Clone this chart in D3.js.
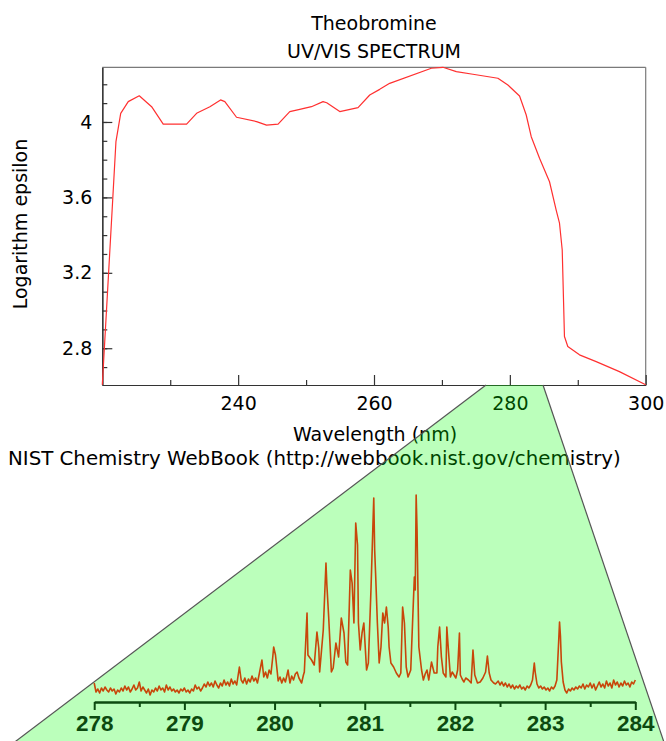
<!DOCTYPE html>
<html><head><meta charset="utf-8">
<script src="https://cdn.jsdelivr.net/npm/d3@7"></script>
<style>
html,body{margin:0;padding:0;background:#fff;}
svg{display:block;}
</style></head>
<body>
<svg id="chart" width="666" height="741"></svg>
<script>
// ---- UV/VIS spectrum (top) ----
const uvWavelength = [220.0,221.53,222.01,222.71,223.82,225.44,227.26,228.97,232.41,233.88,235.84,237.41,238.04,239.76,242.71,244.18,245.88,247.60,249.07,250.79,252.50,253.04,254.96,257.65,259.37,260.84,262.31,268.44,270.15,272.12,274.56,278.24,279.71,281.43,282.41,283.15,284.37,285.84,286.82,287.31,287.71,287.90,288.04,288.53,290.25,292.71,296.13,300.0];
const uvLogEps = [2.606,3.586,3.896,4.046,4.108,4.139,4.081,3.989,3.989,4.046,4.081,4.117,4.108,4.025,4.002,3.983,3.989,4.055,4.067,4.081,4.108,4.102,4.055,4.076,4.143,4.173,4.205,4.285,4.290,4.267,4.253,4.232,4.196,4.138,4.037,3.922,3.808,3.683,3.533,3.463,3.321,3.056,2.862,2.809,2.765,2.729,2.676,2.606];
const uvMajorTicksY = [2.8,3.2,3.6,4.0];
const uvMinorTicksY = [2.7,2.8,2.9,3.0,3.1,3.2,3.3,3.4,3.5,3.6,3.7,3.8,3.9,4.0,4.1,4.2];
const uvMajorTicksX = [240,260,280,300];
const uvMinorTicksX = [230,250,270,290];

// ---- zoomed high-resolution spectrum (bottom) ----
const hrWavelength = [
278.00,278.02,278.04,278.06,278.08,278.10,278.12,278.14,278.16,278.18,278.20,278.22,278.24,278.26,278.28,278.30,278.32,278.34,278.36,278.38,
278.40,278.42,278.44,278.46,278.48,278.50,278.52,278.54,278.56,278.58,278.60,278.62,278.64,278.66,278.68,278.70,278.72,278.74,278.76,278.78,
278.80,278.82,278.84,278.86,278.88,278.90,278.92,278.94,278.96,278.98,279.00,279.02,279.04,279.06,279.08,279.10,279.12,279.14,279.16,279.18,
279.20,279.22,279.24,279.26,279.28,279.30,279.32,279.34,279.36,279.38,279.40,279.42,279.44,279.46,279.48,279.50,279.52,279.54,279.56,279.58,
279.61,279.63,279.65,279.67,279.69,279.71,279.73,279.75,279.77,279.79,279.81,279.83,279.86,279.88,279.90,279.92,279.94,279.96,279.98,279.99,
280.01,280.03,280.04,280.06,280.08,280.10,280.12,280.15,280.17,280.19,280.21,280.23,280.25,280.27,280.30,280.32,280.33,280.36,280.37,280.41,
280.44,280.47,280.49,280.50,280.54,280.57,280.58,280.60,280.63,280.65,280.68,280.71,280.74,280.77,280.79,280.81,280.84,280.86,280.88,280.90,
280.92,280.93,280.95,280.97,280.99,281.02,281.04,281.07,281.09,281.10,281.11,281.12,281.14,281.16,281.18,281.20,281.22,281.24,281.26,281.27,
281.29,281.32,281.35,281.38,281.40,281.42,281.44,281.46,281.48,281.51,281.53,281.55,281.56,281.57,281.58,281.59,281.60,281.63,281.65,281.67,
281.69,281.71,281.74,281.77,281.80,281.81,281.83,281.85,281.87,281.90,281.91,281.93,281.95,281.97,281.99,282.01,282.03,282.05,282.06,282.08,
282.10,282.12,282.15,282.18,282.20,282.22,282.25,282.28,282.31,282.34,282.36,282.38,282.40,282.43,282.45,282.48,282.50,282.52,282.54,282.56,
282.58,282.60,282.62,282.64,282.66,282.68,282.70,282.72,282.74,282.76,282.78,282.80,282.82,282.84,282.86,282.88,282.89,282.91,282.93,282.95,
282.97,282.99,283.01,283.03,283.05,283.07,283.09,283.11,283.13,283.15,283.16,283.17,283.18,283.20,283.22,283.24,283.26,283.28,283.30,283.32,
283.34,283.36,283.38,283.40,283.42,283.44,283.46,283.48,283.50,283.52,283.54,283.56,283.58,283.60,283.62,283.64,283.66,283.68,283.70,283.72,
283.74,283.76,283.78,283.80,283.82,283.84,283.86,283.88,283.90,283.92,283.94,283.96,283.98,284.00];
const hrIntensity = [
19,10,13,9,14,11,15,12,10,14,11,13,8,12,10,14,11,16,12,15,
10,13,17,12,14,20,11,15,12,9,13,7,12,10,14,11,16,12,14,10,
17,12,15,11,13,10,12,9,13,11,14,10,12,9,13,11,17,13,15,11,
14,18,15,20,16,19,15,21,17,14,19,16,22,17,20,16,23,18,21,17,
35,22,19,24,18,23,20,26,21,24,19,28,42,25,30,24,32,28,45,55,
47,30,21,25,19,24,20,32,19,26,22,28,30,24,19,27,30,89,47,42,
37,70,54,30,72,139,117,85,30,34,59,45,84,69,40,37,132,119,79,179,
157,79,52,69,79,32,39,115,175,204,152,129,79,39,55,89,79,95,75,55,
39,35,29,25,29,95,79,35,25,32,79,125,112,207,172,112,55,32,22,28,
32,22,40,29,29,55,75,45,29,25,75,49,25,30,27,24,32,69,27,23,
20,24,22,19,52,27,19,20,24,30,46,29,22,19,18,21,17,20,16,19,
15,18,14,17,13,16,14,17,13,15,12,16,14,17,22,39,30,18,14,16,
13,15,12,14,11,15,13,16,22,60,80,66,40,20,12,9,13,11,14,12,
15,13,16,14,18,13,17,15,19,14,18,12,16,20,15,18,14,21,16,19,
14,22,17,20,15,19,16,21,17,19,15,20,18,22];
const hrTicksMajor = [278,279,280,281,282,283,284];
const hrTicksMinor = [278.5,279.5,280.5,281.5,282.5,283.5];

const svg = d3.select("#chart");
const FONT = "'DejaVu Sans', Verdana, sans-serif";

// ---------- top chart ----------
const x = d3.scaleLinear().domain([220,300]).range([102.3,645.7]);
const y = d3.scaleLinear().domain([2.605,4.29]).range([385,67.3]);

const topG = svg.append("g");
topG.append("line").attr("x1",x(220)).attr("x2",x(300)).attr("y1",y(4.29)).attr("y2",y(4.29)).attr("stroke","#7a7a7a").attr("stroke-width",1.2);
topG.append("line").attr("x1",x(300)).attr("x2",x(300)).attr("y1",y(4.29)).attr("y2",y(2.605)).attr("stroke","#7a7a7a").attr("stroke-width",1.2);

function styleAxis(g, col){
  g.selectAll("path").attr("stroke",col).attr("stroke-width",1.2);
  g.selectAll("line").attr("stroke",col).attr("stroke-width",1.2);
  g.selectAll("text").attr("fill","#000").style("font-family",FONT).style("font-size","19px");
}
const yMinor = topG.append("g").attr("transform",`translate(${x(220)},0)`)
  .call(d3.axisLeft(y).tickValues(uvMinorTicksY).tickSize(-5).tickSizeOuter(0).tickFormat(""));
styleAxis(yMinor,"#333");
const yMajor = topG.append("g").attr("transform",`translate(${x(220)},0)`)
  .call(d3.axisLeft(y).tickValues(uvMajorTicksY).tickSize(-10).tickSizeOuter(0).tickPadding(10).tickFormat(d3.format("~g")));
styleAxis(yMajor,"#333");
const xMinor = topG.append("g").attr("transform",`translate(0,${y(2.605)})`)
  .call(d3.axisBottom(x).tickValues(uvMinorTicksX).tickSize(-5).tickSizeOuter(0).tickFormat(""));
styleAxis(xMinor,"#333");
const xMajor = topG.append("g").attr("transform",`translate(0,${y(2.605)})`)
  .call(d3.axisBottom(x).tickValues(uvMajorTicksX).tickSize(-10).tickSizeOuter(0).tickPadding(12));
styleAxis(xMajor,"#333");

const uvData = uvWavelength.map((w,i)=>[w,uvLogEps[i]]);
topG.append("path").datum(uvData)
  .attr("fill","none").attr("stroke","#ff3030").attr("stroke-width",1.2).attr("stroke-linejoin","round")
  .attr("d", d3.line().x(d=>x(d[0])).y(d=>y(d[1])));

function txt(t, xx, yy, anchor, size){
  return svg.append("text").text(t).attr("x",xx).attr("y",yy)
    .attr("text-anchor",anchor||"middle").attr("fill","#000")
    .style("font-family",FONT).style("font-size",(size||19)+"px");
}
txt("Theobromine", 374, 30);
txt("UV/VIS SPECTRUM", 374, 58);
txt("Wavelength (nm)", 375, 441);
txt("NIST Chemistry WebBook (http://webbook.nist.gov/chemistry)", 8, 465, "start", 19.8);
svg.append("text").text("Logarithm epsilon")
  .attr("transform","translate(27,224) rotate(-90)").attr("text-anchor","middle")
  .attr("fill","#000").style("font-family",FONT).style("font-size","19px");

// ---------- zoom wedge ----------
svg.append("path")
  .attr("d","M486,385 L543,385 L670,760 L-9,760 Z")
  .attr("fill","rgb(0,255,0)").attr("fill-opacity",0.265).attr("stroke","none");
svg.append("line").attr("x1",486).attr("y1",385).attr("x2",-9).attr("y2",760).attr("stroke","#555").attr("stroke-width",1.2);
svg.append("line").attr("x1",543).attr("y1",385).attr("x2",670).attr("y2",760).attr("stroke","#555").attr("stroke-width",1.2);

// ---------- bottom spectrum ----------
const x2 = d3.scaleLinear().domain([278,284]).range([94.2,635.3]);
const y2 = d3.scaleLinear().domain([0,210]).range([702,492]);
const green = "#0c4a10";
const bG = svg.append("g");
const bMinor = bG.append("g").attr("transform","translate(0,702)")
  .call(d3.axisBottom(x2).tickValues(hrTicksMinor).tickSize(5).tickSizeOuter(0).tickFormat(""));
const bMajor = bG.append("g").attr("transform","translate(0,702)")
  .call(d3.axisBottom(x2).tickValues(hrTicksMajor).tickSize(8).tickSizeOuter(0).tickPadding(5).tickFormat(d3.format("d")));
[bMinor,bMajor].forEach(g=>{
  g.selectAll("path").attr("stroke",green).attr("stroke-width",2);
  g.selectAll("line").attr("stroke",green).attr("stroke-width",2);
  g.selectAll("text").attr("fill",green).style("font-family","'Liberation Sans', Arial, sans-serif")
    .style("font-size","22.5px").style("font-weight","bold");
});
const hrData = hrWavelength.map((w,i)=>[w,hrIntensity[i]]);
bG.append("path").datum(hrData)
  .attr("fill","none").attr("stroke","#c8460a").attr("stroke-width",1.6).attr("stroke-linejoin","round")
  .attr("d", d3.line().x(d=>x2(d[0])).y(d=>y2(d[1])));
</script>
</body></html>
